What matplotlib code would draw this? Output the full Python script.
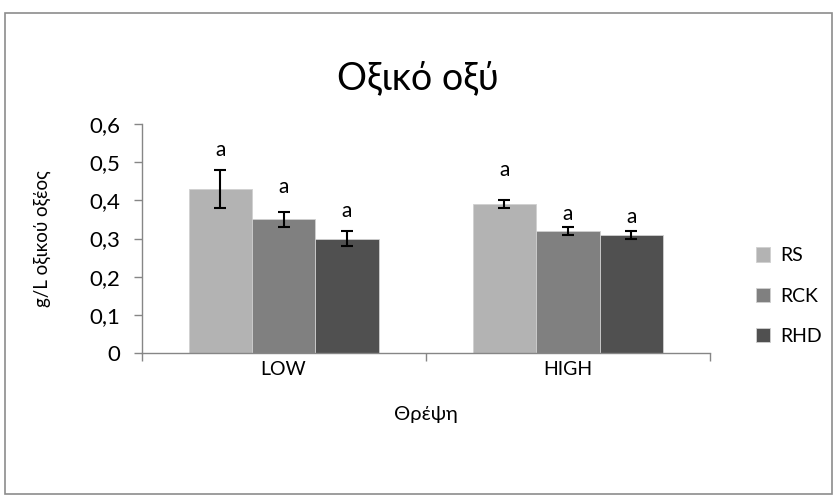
import numpy as np
import matplotlib.pyplot as plt
from matplotlib.patches import Rectangle

plt.rcParams['font.family'] = ['Lato', 'Open Sans', 'DejaVu Sans']

categories = ['LOW', 'HIGH']
series = ['RS', 'RCK', 'RHD']
values = {
    'RS': [0.43, 0.39],
    'RCK': [0.35, 0.32],
    'RHD': [0.30, 0.31],
}
errors = {
    'RS': [0.05, 0.01],
    'RCK': [0.02, 0.01],
    'RHD': [0.02, 0.01],
}
letters = {
    'RS': ['a', 'a'],
    'RCK': ['a', 'a'],
    'RHD': ['a', 'a'],
}
# label heights as placed in the original
letter_y = {
    'RS': [0.532, 0.48],
    'RCK': [0.434, 0.365],
    'RHD': [0.373, 0.356],
}
colors = {'RS': '#b3b3b3', 'RCK': '#808080', 'RHD': '#505050'}

fig = plt.figure(figsize=(8.33, 4.95), dpi=100)
# chart border
fig.patches.append(Rectangle((5 / 833, 0.002), 827 / 833, 1 - 13 / 495 - 0.002,
                             transform=fig.transFigure, fill=False,
                             edgecolor='#8c8c8c', linewidth=1.2))

ax = fig.add_axes([141.5 / 833, 1 - 353 / 495, 568.5 / 833, 229 / 495])
x = np.arange(len(categories))
w = 0.223
for i, s in enumerate(series):
    pos = x + (i - 1) * w
    ax.bar(pos, values[s], w, color=colors[s], edgecolor='#d0d0d0',
           linewidth=0.6, label=s, zorder=2)
    ax.errorbar(pos, values[s], yerr=errors[s], fmt='none', ecolor='black',
                elinewidth=1.5, capsize=4.5, capthick=1.5, zorder=3)
    for j in range(len(categories)):
        ax.text(pos[j], letter_y[s][j], letters[s][j], ha='center',
                va='center', fontsize=15)

ax.set_xlim(-0.5, 1.5)
ax.set_ylim(0, 0.6)
ax.set_yticks(np.arange(0, 0.61, 0.1))
ax.set_yticklabels(['0' if v == 0 else f'{v:.1f}'.replace('.', ',')
                    for v in np.arange(0, 0.61, 0.1)], fontsize=16)
ax.set_xticks(x)
ax.set_xticklabels(categories, fontsize=14)
ax.set_xticks([-0.5, 0.5, 1.5], minor=True)
ax.tick_params(axis='x', which='major', length=0, pad=6)
ax.tick_params(axis='x', which='minor', length=6, color='#868686', width=1)
ax.tick_params(axis='y', length=6, color='#868686', width=1, pad=9)

for sp in ['top', 'right']:
    ax.spines[sp].set_visible(False)
for sp in ['left', 'bottom']:
    ax.spines[sp].set_color('#868686')
    ax.spines[sp].set_linewidth(1)

ax.set_ylabel('g/L οξικού οξέος', fontsize=13.5, labelpad=28)
ax.set_xlabel('Θρέψη', fontsize=14.5, labelpad=20)
fig.text(418 / 833, 1 - 78 / 495, 'Οξικό οξύ', ha='center', va='center',
         fontsize=27)

ax.legend(loc='center left', bbox_to_anchor=(746 / 833, 1 - 296 / 495),
          bbox_transform=fig.transFigure, frameon=False,
          fontsize=14, handlelength=0.75, handleheight=0.75, labelspacing=1.2,
          handletextpad=0.5, borderpad=0)

fig.savefig('out.png', dpi=100)
